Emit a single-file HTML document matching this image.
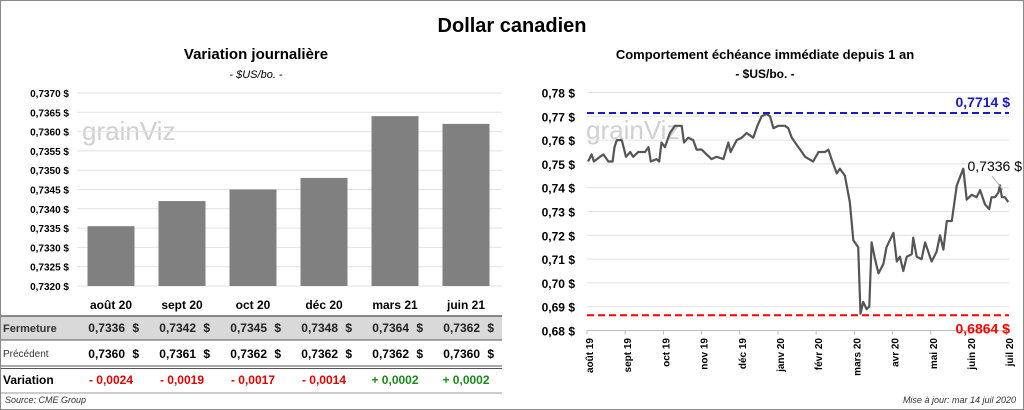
<!DOCTYPE html>
<html><head><meta charset="utf-8">
<style>
body{margin:0;width:1024px;height:410px;background:#fff;font-family:"Liberation Sans",sans-serif;overflow:hidden}
#wrap{position:absolute;left:0;top:0;width:1022px;height:408px;border:1px solid #8a8a8a}
svg text{font-family:"Liberation Sans",sans-serif}
</style></head><body>
<div id="wrap"></div>
<svg id="s" width="1024" height="410" style="position:absolute;left:0;top:0">
<text x="512" y="32" font-size="20" font-weight="bold" text-anchor="middle">Dollar canadien</text>
<text x="256" y="59" font-size="15" font-weight="bold" text-anchor="middle">Variation  journalière</text>
<text x="256" y="78" font-size="11" font-style="italic" text-anchor="middle">- $US/bo. -</text>
<text x="765" y="59" font-size="13" font-weight="bold" text-anchor="middle">Comportement échéance immédiate depuis 1 an</text>
<text x="765" y="78" font-size="12" font-weight="bold" text-anchor="middle">- $US/bo. -</text>
<text x="82" y="140" font-size="26" fill="#d0d0d0">grainViz</text>
<text x="586" y="139" font-size="26" fill="#d0d0d0">grainViz</text>
<g id="left"></g><g id="right"></g><g id="table"></g>
<text x="5" y="403" font-size="9" font-style="italic" fill="#333">Source: CME Group</text>
<text x="1016" y="403" font-size="9" font-style="italic" fill="#333" text-anchor="end">Mise à jour: mar 14 juil 2020</text>
</svg>
<script>
const barCats=["août 20","sept 20","oct 20","déc 20","mars 21","juin 21"];
const barVals=[0.73355,0.7342,0.7345,0.7348,0.7364,0.7362];
const closeVals=["0,7336","0,7342","0,7345","0,7348","0,7364","0,7362"];
const prevVals=["0,7360","0,7361","0,7362","0,7362","0,7362","0,7360"];
const varVals=["- 0,0024","- 0,0019","- 0,0017","- 0,0014","+ 0,0002","+ 0,0002"];
const leftTicks=[0.7320,0.7325,0.7330,0.7335,0.7340,0.7345,0.7350,0.7355,0.7360,0.7365,0.7370];
const months=["août 19","sept 19","oct 19","nov 19","déc 19","janv 20","févr 20","mars 20","avr 20","mai 20","juin 20","juil 20"];
const rightTicks=[0.68,0.69,0.70,0.71,0.72,0.73,0.74,0.75,0.76,0.77,0.78];
const lineT=[0.03,0.12,0.18,0.34,0.43,0.56,0.67,0.72,0.78,0.91,1.02,1.13,1.21,1.34,1.52,1.61,1.67,1.82,1.89,1.95,2.04,2.17,2.30,2.48,2.54,2.65,2.78,2.87,3.00,3.13,3.26,3.39,3.57,3.70,3.76,3.92,4.05,4.18,4.35,4.46,4.57,4.70,4.79,4.88,5.01,5.18,5.27,5.36,5.49,5.58,5.71,5.92,6.06,6.23,6.32,6.40,6.54,6.62,6.75,6.88,6.97,7.10,7.16,7.23,7.32,7.39,7.45,7.54,7.63,7.76,7.84,8.02,8.11,8.19,8.28,8.37,8.50,8.54,8.63,8.76,8.85,9.02,9.15,9.24,9.33,9.42,9.55,9.68,9.85,9.94,10.07,10.20,10.29,10.42,10.53,10.59,10.68,10.77,10.81,10.86,10.94,11.03];
const lineV=[0.751,0.754,0.751,0.753,0.754,0.751,0.751,0.757,0.760,0.760,0.753,0.755,0.753,0.755,0.755,0.757,0.751,0.752,0.751,0.759,0.757,0.763,0.766,0.766,0.759,0.761,0.760,0.756,0.756,0.754,0.752,0.753,0.752,0.759,0.755,0.760,0.761,0.763,0.761,0.766,0.770,0.771,0.770,0.765,0.766,0.766,0.765,0.761,0.758,0.756,0.753,0.751,0.755,0.755,0.756,0.752,0.746,0.748,0.745,0.734,0.718,0.715,0.687,0.692,0.689,0.690,0.717,0.710,0.704,0.708,0.715,0.721,0.709,0.711,0.705,0.711,0.712,0.719,0.711,0.710,0.717,0.709,0.713,0.720,0.714,0.726,0.726,0.741,0.748,0.735,0.737,0.736,0.739,0.733,0.731,0.736,0.736,0.738,0.741,0.736,0.736,0.734];
const maxVal=0.7714, minVal=0.6864, lastVal="0,7336 $";

const NS="http://www.w3.org/2000/svg";
function mk(p,tag,at,txt){const e=document.createElementNS(NS,tag);for(const k in at)e.setAttribute(k,at[k]);if(txt!==undefined)e.textContent=txt;p.appendChild(e);return e;}
const L=document.getElementById('left'),R=document.getElementById('right'),T=document.getElementById('table');
// left chart
const ly=v=>93+(0.7370-v)/0.0005*19.3;
const lx=i=>111+i*71;
leftTicks.forEach(v=>{
 const g=mk(L,'line',{x1:77,x2:502,y1:ly(v),y2:ly(v),stroke:'#e2e2e2'});
 
 const t=mk(L,'text',{x:69,y:ly(v)+4,'font-size':10,'font-weight':'bold','text-anchor':'end'},v.toFixed(4).replace('.',',')+' $');
 
});
barVals.forEach((v,i)=>{
 const b=mk(L,'rect',{x:lx(i)-23.5,y:ly(v),width:47,height:ly(0.7320)-ly(v),fill:'#808080'});
 
});
// table
mk(T,'rect',{x:1,y:316,width:501,height:24,fill:'#d9d9d9'});
mk(T,'line',{x1:1,x2:502,y1:316,y2:316,stroke:'#666','stroke-width':1.5});
mk(T,'line',{x1:1,x2:502,y1:340,y2:340,stroke:'#555','stroke-width':1});
mk(T,'line',{x1:1,x2:502,y1:366,y2:366,stroke:'#555','stroke-width':1});
mk(T,'line',{x1:1,x2:502,y1:368.5,y2:368.5,stroke:'#555','stroke-width':1});
mk(T,'line',{x1:1,x2:502,y1:393,y2:393,stroke:'#999','stroke-width':1});
let h=mk(T,'text',{x:3,y:332,'font-size':11,'font-weight':'bold',fill:'#333'},'Fermeture');

h=mk(T,'text',{x:3,y:357,'font-size':10,fill:'#333'},'Précédent');

h=mk(T,'text',{x:3,y:384,'font-size':12,'font-weight':'bold'},'Variation');

barCats.forEach((c,i)=>{
 const x=lx(i);
 let t=mk(T,'text',{x:x,y:309,'font-size':12,'font-weight':'bold','text-anchor':'middle'},c);
 
 t=mk(T,'text',{x:x+14,y:332,'font-size':12,'font-weight':'bold','text-anchor':'end',fill:'#222'},closeVals[i]);
 
 mk(T,'text',{x:x+28,y:332,'font-size':12,'font-weight':'bold','text-anchor':'end',fill:'#222'},'$');
 t=mk(T,'text',{x:x+14,y:358,'font-size':12,'font-weight':'bold','text-anchor':'end'},prevVals[i]);
 
 mk(T,'text',{x:x+28,y:358,'font-size':12,'font-weight':'bold','text-anchor':'end'},'$');
 t=mk(T,'text',{x:x,y:384,'font-size':12,'font-weight':'bold','text-anchor':'middle',fill:varVals[i][0]=='-'?'#e00000':'#1a8a1a'},varVals[i]);
 
});
// right chart
const ry=v=>92.5+(0.78-v)/0.01*23.8;
const rx=t=>587+t*38.2;
rightTicks.forEach(v=>{
 const g=mk(R,'line',{x1:587,x2:1009,y1:ry(v),y2:ry(v),stroke:'#e2e2e2'});
 
 const t=mk(R,'text',{x:575,y:ry(v)+5,'font-size':12,'font-weight':'bold','text-anchor':'end'},v.toFixed(2).replace('.',',')+' $');
 
});
mk(R,'line',{x1:587,x2:1009,y1:ry(0.68),y2:ry(0.68),stroke:'#bbb'});
months.forEach((m,i)=>{
 mk(R,'line',{x1:rx(i),x2:rx(i),y1:ry(0.68),y2:ry(0.68)+4,stroke:'#bbb'});
 const cx=rx(i)+6;
 const t=mk(R,'text',{x:cx,y:338,'font-size':10,'font-weight':'bold','text-anchor':'end',transform:`rotate(-90 ${cx} 338)`},m);
 
});
let d=lineT.map((t,i)=>(i?'L':'M')+rx(t).toFixed(1)+','+ry(lineV[i]).toFixed(1)).join(' ');
const pth=mk(R,'path',{d:d,fill:'none',stroke:'#555','stroke-width':2.2,'stroke-linejoin':'round'});

let ml=mk(R,'line',{x1:587,x2:1009,y1:ry(maxVal),y2:ry(maxVal),stroke:'#1a1ac8','stroke-width':2,'stroke-dasharray':'7,4'});

ml=mk(R,'line',{x1:587,x2:1009,y1:ry(minVal),y2:ry(minVal),stroke:'#ff0000','stroke-width':2,'stroke-dasharray':'7,4'});

let tl=mk(R,'text',{x:1010,y:ry(maxVal)-6,'font-size':14,'font-weight':'bold','text-anchor':'end',fill:'#1a1ac8'},maxVal.toFixed(4).replace('.',',')+' $');

tl=mk(R,'text',{x:1010,y:ry(minVal)+18,'font-size':14,'font-weight':'bold','text-anchor':'end',fill:'#ff0000'},minVal.toFixed(4).replace('.',',')+' $');

mk(R,'line',{x1:992,y1:176,x2:1003,y2:190,stroke:'#aaa'});
tl=mk(R,'text',{x:1022,y:171,'font-size':14,'text-anchor':'end'},lastVal);

</script>
</body></html>
